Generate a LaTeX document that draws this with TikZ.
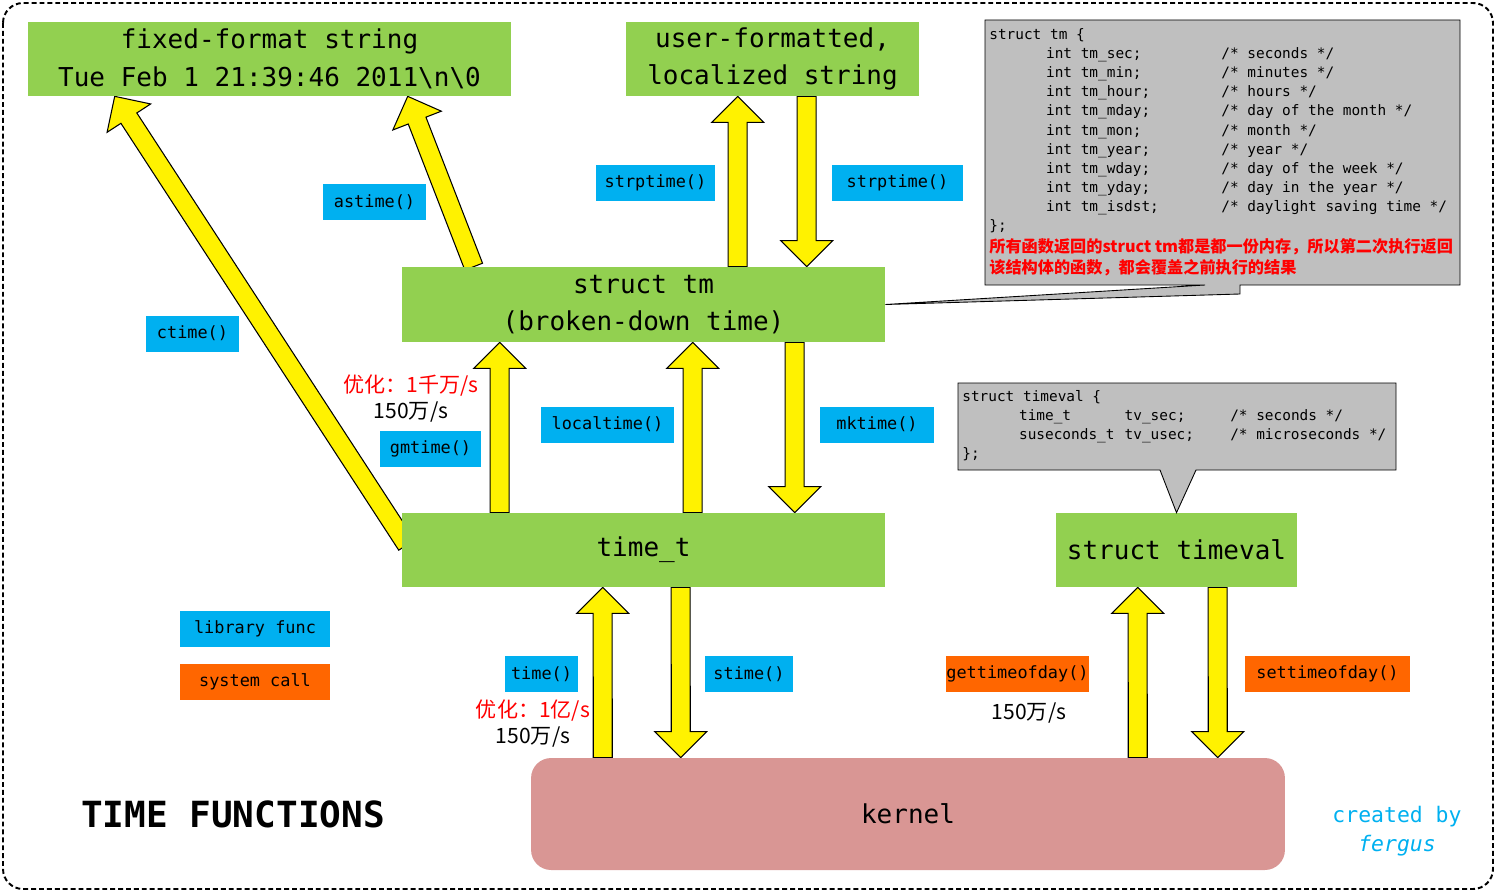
\documentclass[tikz,border=0pt]{standalone}
\usepackage{fontspec}
\setmainfont{DejaVu Sans Mono}
\newfontfamily\cjk{Noto Sans CJK SC}
\usetikzlibrary{calc,backgrounds}

\definecolor{boxgreen}{RGB}{146,208,80}
\definecolor{libblue}{RGB}{0,176,240}
\definecolor{sysorange}{RGB}{255,102,0}
\definecolor{kernelpink}{RGB}{217,150,148}
\definecolor{notegray}{RGB}{191,191,191}

% block arrow from tail (#1) to tip (#2)
\newcommand{\yarrow}[2]{%
  \coordinate (ya-t) at (#1);
  \coordinate (ya-p) at (#2);
  \coordinate (ya-h) at ($(ya-p)!0.52cm!(ya-t)$);
  \draw[blockarrow] ($(ya-t)!0.19cm!90:(ya-p)$) -- ($(ya-h)!0.19cm!90:(ya-p)$)
    -- ($(ya-h)!0.52cm!90:(ya-p)$) -- (ya-p) -- ($(ya-h)!0.52cm!-90:(ya-p)$)
    -- ($(ya-h)!0.19cm!-90:(ya-p)$) -- ($(ya-t)!0.19cm!-90:(ya-p)$) -- cycle;
}
\newcommand{\tmfield}[2]{\hspace*{32.3pt}\makebox[99.8pt][l]{#1}#2}
\newcommand{\tvfield}[3]{\hspace*{32.3pt}\makebox[60.1pt][l]{#1}\makebox[60.1pt][l]{#2}#3}

\begin{document}
\begin{tikzpicture}[x=0.02cm, y=-0.02cm,
  mainbox/.style={fill=boxgreen, align=center, inner sep=0pt, minimum height=1.48cm,
    font=\fontsize{14.8}{21.5}\selectfont},
  libfunc/.style={fill=libblue, inner sep=0pt, minimum height=0.72cm,
    font=\fontsize{9.6}{11}\selectfont},
  syscall/.style={libfunc, fill=sysorange},
  blockarrow/.style={fill=yellow, draw=black, line width=0.6pt},
  note/.style={fill=notegray, draw=black, line width=0.5pt},
  notetext/.style={align=left, inner sep=0pt, anchor=north west,
    font=\fontsize{8.2}{10.9}\selectfont},
  warn/.style={font=\cjk\bfseries\fontsize{9.2}{12}\selectfont, text=red},
  rate/.style={font=\cjk\fontsize{12}{14}\selectfont},
]
\useasboundingbox (0,0) rectangle (1496,892);
\draw[line width=1.1pt, dash pattern=on 2.8pt off 1.7pt, rounded corners=0.4cm] (3,3) rectangle (1493,889);

% data boxes
\node[mainbox, minimum width=9.66cm] (fixed) at (269.5,59) {fixed-format string\\Tue Feb 1 21:39:46 2011\textbackslash n\textbackslash 0};
\node[mainbox, minimum width=5.86cm] (user) at (772.5,59) {user-formatted,\\localized string};
\node[mainbox, minimum width=9.66cm, minimum height=1.5cm] (tm) at (643.5,304.5) {struct tm\\(broken-down time)};
\node[mainbox, minimum width=9.66cm] (timet) at (643.5,550) {time\_t};
\node[mainbox, minimum width=4.82cm] (timeval) at (1176.5,550) {struct timeval};
\node[mainbox, fill=kernelpink, minimum width=15.08cm, minimum height=2.24cm, rounded corners=0.4cm] (kernel) at (908,814) {kernel};

% function labels
\node[libfunc, minimum width=2.06cm] (astime) at (374.5,202) {astime()};
\node[libfunc, minimum width=2.38cm] (strpl) at (655.5,183) {strptime()};
\node[libfunc, minimum width=2.62cm] (strpr) at (897.5,183) {strptime()};
\node[libfunc, minimum width=1.86cm] (ctime) at (192.5,333.5) {ctime()};
\node[libfunc, minimum width=2.02cm] (gmtime) at (430.5,449) {gmtime()};
\node[libfunc, minimum width=2.66cm] (localtime) at (607.5,424.5) {localtime()};
\node[libfunc, minimum width=2.28cm] (mktime) at (877,424.5) {mktime()};
\node[libfunc, minimum width=1.46cm] (time) at (541.5,674) {time()};
\node[libfunc, minimum width=1.76cm] (stime) at (749,674) {stime()};
\node[syscall, minimum width=2.82cm] (gettod) at (1017.5,674) {gettimeofday()};
\node[syscall, minimum width=3.3cm] (settod) at (1327.5,674) {settimeofday()};

% legend
\node[libfunc, minimum width=3cm] (keylib) at (255,629) {library func};
\node[syscall, minimum width=3cm] (keysys) at (255,682) {system call};

% rates
\node[rate, text=red] (opt1) at (411,386) {优化：1千万/s};
\node[rate] (rate1) at (411,412) {150万/s};
\node[rate, text=red] (opt2) at (533,711) {优化：1亿/s};
\node[rate] (rate2) at (533,737) {150万/s};
\node[rate] (rate3) at (1029,713) {150万/s};

\node[font=\bfseries\fontsize{20.5}{24}\selectfont] (title) at (233,814) {TIME FUNCTIONS};
\node[text=libblue, align=center, font=\fontsize{12.2}{16.4}\selectfont] (credit) at (1397,831) {created by\\\itshape fergus};

% notes
\draw[note] (985,20) -- (1460,20) -- (1460,285) -- (1240,285) -- (1240,294) -- (tm.east) -- (1205,285) -- (985,285) -- cycle;
\node[notetext] (tmnote) at (989,28) {struct tm \{\\
\tmfield{int tm\_sec;}{/* seconds */}\\
\tmfield{int tm\_min;}{/* minutes */}\\
\tmfield{int tm\_hour;}{/* hours */}\\
\tmfield{int tm\_mday;}{/* day of the month */}\\
\tmfield{int tm\_mon;}{/* month */}\\
\tmfield{int tm\_year;}{/* year */}\\
\tmfield{int tm\_wday;}{/* day of the week */}\\
\tmfield{int tm\_yday;}{/* day in the year */}\\
\tmfield{int tm\_isdst;}{/* daylight saving time */}\\
\};};
\node[warn, align=left, anchor=north west, inner sep=0pt] (tmwarn) at (989,238) {所有函数返回的struct tm都是都一份内存，所以第二次执行返回\\该结构体的函数，都会覆盖之前执行的结果};

\draw[note] (958,383) -- (1396,383) -- (1396,470) -- (1196,470) -- (timeval.north) -- (1160,470) -- (958,470) -- cycle;
\node[notetext] (tvnote) at (962,390) {struct timeval \{\\
\tvfield{time\_t}{tv\_sec;}{/* seconds */}\\
\tvfield{suseconds\_t}{tv\_usec;}{/* microseconds */}\\
\};};

% arrows
\begin{scope}[on background layer]
\yarrow{$(timet.west)+(5,-5)$}{$(fixed.south west)+(87,0)$}
\yarrow{$(tm.north west)+(72,0)$}{$(fixed.south west)+(380,0)$}
\yarrow{$(tm.north west)+(336,0)$}{$(user.south west)+(112,0)$}
\yarrow{$(user.south west)+(181,0)$}{$(tm.north west)+(405,0)$}
\yarrow{$(timet.north west)+(98,0)$}{$(tm.south west)+(98,0)$}
\yarrow{$(timet.north west)+(291,0)$}{$(tm.south west)+(291,0)$}
\yarrow{$(tm.south west)+(393,0)$}{$(timet.north west)+(393,0)$}
\yarrow{$(kernel.north west)+(72,0)$}{$(timet.south west)+(201,0)$}
\yarrow{$(timet.south west)+(279,0)$}{$(kernel.north west)+(150,0)$}
\yarrow{$(kernel.north west)+(607,0)$}{$(timeval.south west)+(82,0)$}
\yarrow{$(timeval.south west)+(162,0)$}{$(kernel.north west)+(687,0)$}
\end{scope}
\end{tikzpicture}
\end{document}
